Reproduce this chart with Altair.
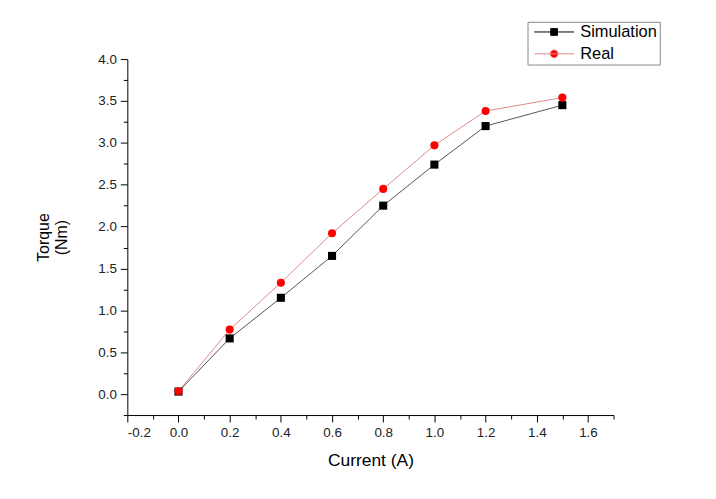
import altair as alt
import pandas as pd

series_names = ["Simulation", "Real"]
current = [0.0, 0.2, 0.4, 0.6, 0.8, 1.0, 1.2, 1.5]
sim_torque = [0.03, 0.665, 1.15, 1.65, 2.25, 2.74, 3.20, 3.45]
real_torque = [0.035, 0.77, 1.33, 1.92, 2.45, 2.97, 3.38, 3.54]

x_major = [-0.2, 0.0, 0.2, 0.4, 0.6, 0.8, 1.0, 1.2, 1.4, 1.6]
x_minor = [-0.1, 0.1, 0.3, 0.5, 0.7, 0.9, 1.1, 1.3, 1.5, 1.7]
y_major = [0.0, 0.5, 1.0, 1.5, 2.0, 2.5, 3.0, 3.5, 4.0]
y_minor = [-0.25, 0.25, 0.75, 1.25, 1.75, 2.25, 2.75, 3.25, 3.75]

rows = []
for name, vals in zip(series_names, [sim_torque, real_torque]):
    for c, t in zip(current, vals):
        rows.append({"series": name, "current": c, "torque": t})
df = pd.DataFrame(rows)

FONT = "Liberation Sans"
xscale = alt.Scale(domain=[-0.2, 1.7], nice=False, zero=False)
yscale = alt.Scale(domain=[-0.25, 4.0], nice=False, zero=False)

major_common = dict(grid=False, tickSize=7, tickColor="black", domainColor="black",
                    labelFont=FONT, labelFontSize=13.5, labelColor="#222", labelPadding=4,
                    labelExpr="replace(datum.label, '\u2212', '-')",
                    titleFont=FONT, titleColor="black", titleFontWeight="normal")

lines = alt.Chart(df).mark_line(strokeWidth=1).encode(
    x=alt.X("current:Q", scale=xscale,
            axis=alt.Axis(values=x_minor, labels=False, domain=False, tickSize=4,
                          tickColor="black", grid=False, title=None, orient="bottom")),
    y=alt.Y("torque:Q", scale=yscale,
            axis=alt.Axis(values=y_minor, labels=False, domain=False, tickSize=4,
                          tickColor="black", grid=False, title=None, orient="left")),
    stroke=alt.Stroke("series:N", scale=alt.Scale(domain=series_names, range=["#555555", "#e08a8a"]),
                      legend=None),
    detail="series:N",
)

points = alt.Chart(df).mark_point(filled=True, opacity=1, size=66).encode(
    x=alt.X("current:Q", scale=xscale,
            axis=alt.Axis(values=x_major, format=".1f", title="Current (A)", orient="bottom",
                          titleFontSize=17.5, titlePadding=12, **major_common)),
    y=alt.Y("torque:Q", scale=yscale,
            axis=alt.Axis(values=y_major, format=".1f", title=["Torque", "(Nm)"], orient="left",
                          titleFontSize=16, titlePadding=28, **major_common)),
    color=alt.Color("series:N", scale=alt.Scale(domain=series_names, range=["#000000", "#ff0000"]),
                    legend=None),
    shape=alt.Shape("series:N", scale=alt.Scale(domain=series_names, range=["square", "circle"]),
                    legend=None),
    order=alt.Order("ord:Q"),
).transform_calculate(ord="datum.series == 'Real' ? 1 : 0")

path_sim = "M-5,0L5,0M-0.85,-0.85L0.85,-0.85L0.85,0.85L-0.85,0.85Z"
path_real = "M-5,0L5,0M-1,0A1,1,0,1,1,1,0A1,1,0,1,1,-1,0Z"

legend_spec = alt.Legend(title=None, orient="none", legendX=402.5, legendY=-37.5,
                         labelFont=FONT, labelFontSize=16.5, labelColor="black",
                         strokeColor="#888888", fillColor="white", padding=2, rowPadding=5,
                         symbolSize=64, symbolOffset=16.5, labelOffset=18,
                         symbolStrokeWidth=1)

legend_layer = alt.Chart(df).mark_point(filled=True, opacity=1, strokeWidth=1).encode(
    color=alt.Color("series:N", scale=alt.Scale(domain=series_names, range=["#000000", "#ff0000"]),
                    legend=legend_spec),
    stroke=alt.Stroke("series:N", scale=alt.Scale(domain=series_names, range=["#000000", "#e08a8a"]),
                      legend=legend_spec),
    shape=alt.Shape("series:N", scale=alt.Scale(domain=series_names, range=[path_sim, path_real]),
                    legend=legend_spec),
).transform_filter("false")

chart = alt.layer(lines, points, legend_layer).resolve_axis(
    x="independent", y="independent"
).resolve_scale(
    color="independent", shape="independent", stroke="independent"
).properties(
    width=489, height=358,
    autosize=alt.AutoSizeParams(type="none"),
    padding={"left": 120, "top": 50, "right": 95, "bottom": 70},
    background="white",
).configure_view(stroke=None)

chart.save("out.html", embed_options={"renderer": "svg", "actions": False})
